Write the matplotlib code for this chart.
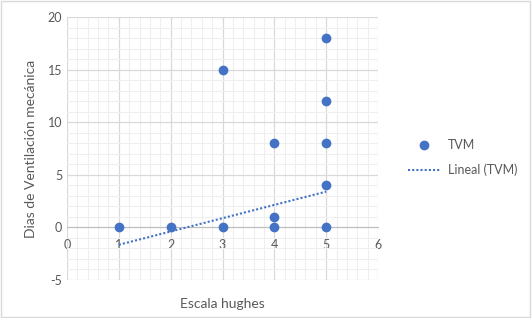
import matplotlib
matplotlib.use("Agg")
import matplotlib.pyplot as plt
from matplotlib.ticker import MultipleLocator
from matplotlib.lines import Line2D
from matplotlib.patches import Rectangle

# Data
escala = [1, 2, 3, 3, 4, 4, 4, 5, 5, 5, 5, 5]
dias = [0, 0, 0, 15, 0, 1, 8, 0, 4, 8, 12, 18]
# linear trend (Lineal TVM) endpoints
trend_x = [1, 5]
trend_y = [-1.65, 3.4]

blue = '#4472C4'
txt = '#595959'
plt.rcParams['font.family'] = ['Lato', 'DejaVu Sans']
plt.rcParams['axes.unicode_minus'] = False

fig = plt.figure(figsize=(5.32, 3.18), dpi=100)
fig.patches.append(Rectangle((0.002, 0.003), 0.995, 0.993, transform=fig.transFigure,
                             fill=False, edgecolor='#d9d9d9', linewidth=1))
ax = fig.add_axes([0.126, 0.1195, 0.5845, 0.827])

ax.scatter(escala, dias, s=36, color=blue, zorder=4, label='TVM')
ax.plot(trend_x, trend_y, color=blue, linestyle=(0, (1, 1)), linewidth=1.5, zorder=3,
        label='Lineal (TVM)')

ax.set_xlim(0, 6)
ax.set_ylim(-5, 20)
ax.xaxis.set_major_locator(MultipleLocator(1))
ax.xaxis.set_minor_locator(MultipleLocator(0.2))
ax.yaxis.set_major_locator(MultipleLocator(5))
ax.yaxis.set_minor_locator(MultipleLocator(1))
ax.grid(True, which='major', color='#d9d9d9', linewidth=0.9, zorder=0)
ax.grid(True, which='minor', color='#efefef', linewidth=0.8, zorder=0)
ax.set_axisbelow(True)

for side in ['top', 'right', 'left']:
    ax.spines[side].set_visible(False)
ax.spines['bottom'].set_position(('data', 0))
ax.spines['bottom'].set_color('#bfbfbf')
ax.spines['bottom'].set_zorder(2)
ax.tick_params(which='both', length=0, colors=txt, labelsize=9)
ax.tick_params(axis='x', pad=8)

ax.set_ylabel('Dias de Ventilación mecánica', color=txt, fontsize=10, labelpad=8)
ax.text(0.5, -0.07, 'Escala hughes', transform=ax.transAxes, ha='center', va='top',
        color=txt, fontsize=10)

handles = [Line2D([], [], marker='o', color=blue, linestyle='none', markersize=6),
           Line2D([], [], color=blue, linestyle=(0, (1, 1)), linewidth=1.5)]
fig.legend(handles, ['TVM', 'Lineal (TVM)'], loc='center left',
           bbox_to_anchor=(0.745, 0.505), frameon=False, fontsize=9,
           labelcolor=txt, handlelength=2.7, handletextpad=0.5, labelspacing=1.0)

fig.savefig('out.png', dpi=100)
